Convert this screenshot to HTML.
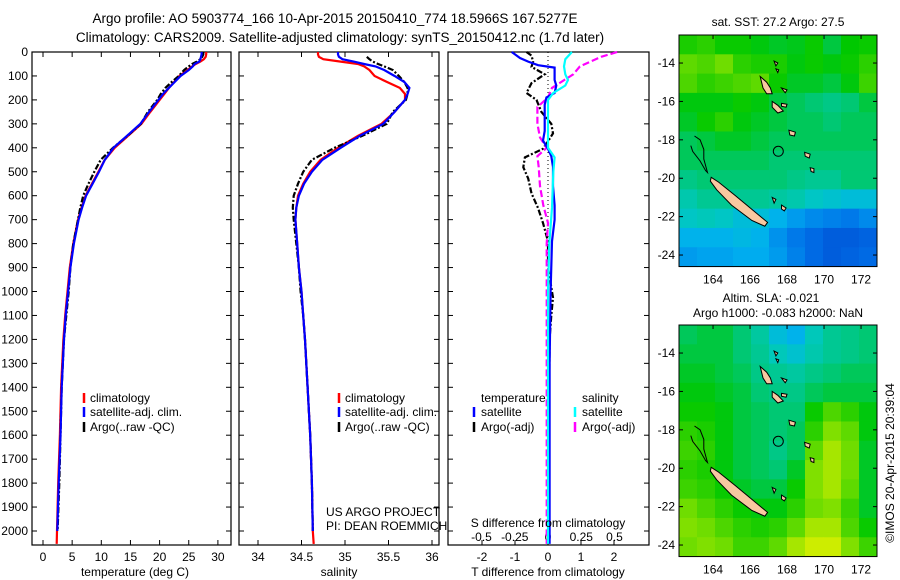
<!DOCTYPE html>
<html><head><meta charset="utf-8"><style>
body{margin:0;background:#fff;}
svg{display:block;font-family:"Liberation Sans",sans-serif;}
</style></head><body>
<svg id="fig" width="900" height="580" viewBox="0 0 900 580" xmlns="http://www.w3.org/2000/svg">
<rect width="900" height="580" fill="#fff"/>
<text x="335" y="23" font-size="13.5" text-anchor="middle">Argo profile: AO 5903774_166 10-Apr-2015 20150410_774 18.5966S 167.5277E</text>
<text x="340" y="42" font-size="13.5" text-anchor="middle">Climatology: CARS2009. Satellite-adjusted climatology: synTS_20150412.nc (1.7d later)</text>
<g id="g"></g>
</svg>
<script>
// ---------- profile data ----------
const depth = [0,10,20,30,40,50,60,75,100,125,150,175,200,250,300,350,400,450,500,550,600,650,700,800,900,1000,1100,1200,1400,1600,1800,2000,2054];
const climT = [28.0,28.0,27.9,27.6,27.0,26.2,25.6,24.8,23.4,22.5,21.6,20.8,20.0,18.4,16.9,14.6,12.3,10.6,9.5,8.4,7.3,6.6,6.0,5.2,4.6,4.2,3.8,3.5,3.1,2.9,2.6,2.4,2.35];
const satT  = [27.2,27.2,27.1,27.0,26.8,26.0,25.7,25.0,23.6,22.6,21.6,20.6,19.8,18.2,16.7,14.4,12.1,10.6,9.6,8.5,7.4,6.7,6.1,5.3,4.7,4.3,3.9,3.6,3.2,3.0,2.7,2.45,null];
const argoT = [27.5,27.5,27.3,27.0,26.4,25.6,25.0,24.2,23.3,22.1,21.0,20.2,19.6,18.0,16.8,14.5,12.0,9.9,8.8,7.8,6.9,6.4,6.0,5.2,4.7,4.4,4.0,3.6,3.2,3.0,2.8,2.5,null];
const climS = [34.69,34.69,34.70,34.75,34.95,35.15,35.22,35.28,35.34,35.48,35.63,35.69,35.69,35.57,35.42,35.15,34.92,34.72,34.60,34.52,34.46,34.44,34.43,34.45,34.47,34.50,34.52,34.54,34.57,34.60,34.62,34.63,34.64];
const satS  = [34.92,34.92,34.93,34.97,35.10,35.22,35.35,35.45,35.57,35.68,35.74,35.72,35.69,35.57,35.44,35.17,34.95,34.74,34.62,34.53,34.47,34.44,34.43,34.45,34.47,34.50,34.52,34.54,34.57,34.60,34.62,34.63,null];
const argoS = [null,null,35.25,35.28,35.32,35.38,35.45,35.55,35.62,35.68,35.72,35.72,35.70,35.55,35.48,35.20,34.88,34.62,34.52,34.46,34.41,34.40,34.41,34.44,34.47,34.49,34.52,34.54,34.57,34.60,34.62,34.63,null];
// ---------- difference data ----------
const dTsatDepth = [0,10,25,40,55,65,90,117,140,171,190,220,280,330,370,404,435,480,560,640,700,790,1000,1300,2054];
const dTsat      = [-1.1,-1.0,-0.85,-0.6,-0.3,0.2,0.2,0.2,0.25,0.2,-0.05,-0.1,-0.1,-0.1,-0.15,0.0,0.1,0.15,0.15,0.2,0.2,0.12,0.08,0.05,0.05];
const dTargoDepth = [0,15,40,62,93,130,171,200,250,300,340,373,404,440,481,528,590,652,714,790,900,1025,1100,1200,1600,2000];
const dTargo      = [-0.65,-0.5,-0.45,-0.5,-0.1,-0.5,-0.65,-0.35,-0.2,0.1,0.15,0.0,-0.15,-0.7,-0.75,-0.6,-0.5,-0.3,-0.15,0.0,0.0,0.15,0.1,0.05,0.03,0.03];
const dSsatDepth = [0,30,60,93,117,140,171,200,300,400,440,500,650,800,1000,2054];
const dSsat      = [0.18,0.13,0.12,0.13,0.15,0.13,0.04,0.0,0.0,0.0,0.05,0.04,0.03,0.01,0.0,0.0];
const dSargoDepth = [0,20,60,93,150,190,230,300,357,400,435,480,560,640,714,800,2054];
const dSargo      = [0.52,0.4,0.24,0.19,0.03,0.0,-0.08,-0.08,-0.06,-0.01,-0.08,-0.07,-0.06,-0.035,0.0,-0.01,-0.01];
// ---------- map data (rows: lat -12.5 → -24.5, cols: lon 162.2 → 172.7) ----------
const sstGrid = [
[.68,.70,.66,.66,.64,.62,.63,.66,.60,.65,.66],
[.76,.74,.78,.70,.68,.68,.64,.66,.64,.66,.70],
[.74,.70,.72,.74,.76,.66,.62,.62,.60,.64,.72],
[.64,.64,.64,.66,.64,.60,.58,.56,.54,.56,.60],
[.62,.66,.70,.64,.62,.60,.58,.58,.56,.58,.58],
[.58,.60,.62,.62,.60,.58,.58,.58,.58,.58,.58],
[.58,.58,.58,.58,.58,.56,.56,.56,.56,.56,.56],
[.54,.56,.56,.56,.56,.56,.54,.52,.52,.56,.56],
[.48,.52,.52,.52,.52,.50,.48,.44,.42,.40,.40],
[.44,.46,.44,.40,.40,.36,.30,.26,.24,.22,.26],
[.36,.36,.36,.38,.36,.28,.22,.18,.14,.14,.16],
[.30,.32,.32,.34,.34,.30,.24,.18,.14,.16,.18]];
const slaGrid = [
[.58,.60,.60,.56,.50,.40,.36,.46,.52,.54,.56],
[.60,.60,.60,.56,.52,.46,.42,.48,.52,.54,.56],
[.62,.62,.60,.58,.54,.52,.50,.54,.56,.58,.58],
[.64,.64,.62,.60,.56,.54,.54,.58,.60,.60,.60],
[.66,.66,.64,.60,.58,.56,.56,.66,.74,.70,.64],
[.70,.68,.64,.60,.58,.56,.58,.70,.80,.76,.64],
[.72,.70,.64,.60,.58,.54,.58,.76,.84,.78,.62],
[.70,.68,.64,.60,.58,.56,.62,.80,.84,.78,.62],
[.72,.70,.66,.62,.60,.60,.66,.80,.84,.76,.62],
[.78,.74,.70,.66,.64,.64,.70,.78,.80,.72,.62],
[.80,.78,.74,.70,.68,.70,.76,.84,.84,.74,.66],
[.78,.80,.78,.72,.72,.76,.84,.88,.88,.80,.72]];
const depthTicks = [0,100,200,300,400,500,600,700,800,900,1000,1100,1200,1300,1400,1500,1600,1700,1800,1900,2000];
const tempTicks = [0,5,10,15,20,25,30];
const salTicks = [34,34.5,35,35.5,36];
const salTickLabels = ["34","34.5","35","35.5","36"];
const dTTicks = [-2,-1,0,1,2];
const dSTicks = [-0.5,-0.25,0,0.25,0.5];
const dSTickLabels = ["-0.5","-0.25","0","0.25","0.5"];
const latTicks = [-14,-16,-18,-20,-22,-24];
const lonTicks = [164,166,168,170,172];
const argoLon = 167.5277, argoLat = -18.5966;

const NS='http://www.w3.org/2000/svg';
const G=document.getElementById('g');
function el(tag,attrs,parent){const e=document.createElementNS(NS,tag);for(const k in attrs)e.setAttribute(k,attrs[k]);(parent||G).appendChild(e);return e;}
const yD = d => 52 + d*0.2395;
const PB = 545;

function panel(x0,x1,name){
  const r=el('rect',{x:x0,y:52,width:x1-x0,height:PB-52,fill:'none',stroke:'#000','stroke-width':1.2});
  
  
  depthTicks.forEach(d=>{
    el('line',{x1:x0,x2:x0+5,y1:yD(d),y2:yD(d),stroke:'#000'});
    el('line',{x1:x1-5,x2:x1,y1:yD(d),y2:yD(d),stroke:'#000'});
  });
}
function line(xs,ds,fx,color,name,dash,maxD){
  let pts=[];
  for(let i=0;i<xs.length;i++){ if(xs[i]===null) continue; if(maxD!==undefined && ds[i]>maxD) continue; pts.push(fx(xs[i]).toFixed(1)+','+yD(ds[i]).toFixed(1)); }
  const p=el('polyline',{points:pts.join(' '),fill:'none',stroke:color,'stroke-width':2.2});
  if(dash) p.setAttribute('stroke-dasharray',dash);
  
  
}
function txt(x,y,s,opts,name){
  const t=el('text',Object.assign({x:x,y:y,'font-size':12},opts||{}));
  t.textContent=s;
  
  
  return t;
}
function legendMark(x,y,color,name){
  const m=el('line',{x1:x,x2:x,y1:y-10,y2:y,stroke:color,'stroke-width':2.5});
  
  
}

// depth labels
depthTicks.forEach(d=>{ const t=txt(28,yD(d)+4,String(d),{'text-anchor':'end'},'depth-tick-label'); });

// ---- Panel 1 temperature ----
const xT = v => 43 + v*5.83;
panel(32,231,'temperature-panel');
tempTicks.forEach(v=>{el('line',{x1:xT(v),x2:xT(v),y1:PB,y2:PB-5,stroke:'#000'});el('line',{x1:xT(v),x2:xT(v),y1:52,y2:57,stroke:'#000'});txt(xT(v),561,String(v),{'text-anchor':'middle'},'temperature-tick-label');});
line(climT,depth,xT,'#ff0000','temperature-climatology-line');
line(argoT,depth,xT,'#000','temperature-argo-line','6,2,2,2',2000);
line(satT,depth,xT,'#0000ff','temperature-satellite-line',null,2000);
txt(135,576,'temperature (deg C)',{'text-anchor':'middle'},'temperature-axis-title');
legendMark(84,403,'#f00','legend-climatology-mark');txt(90,402,'climatology',{},'legend-climatology');
legendMark(84,417,'#00f','legend-satellite-mark');txt(90,416,'satellite-adj. clim.',{},'legend-satellite');
legendMark(84,432,'#000','legend-argo-mark');txt(90,431,'Argo(..raw -QC)',{},'legend-argo');

// ---- Panel 2 salinity ----
const xS = v => 258 + (v-34)*87;
panel(239,439,'salinity-panel');
salTicks.forEach((v,i)=>{el('line',{x1:xS(v),x2:xS(v),y1:PB,y2:PB-5,stroke:'#000'});el('line',{x1:xS(v),x2:xS(v),y1:52,y2:57,stroke:'#000'});txt(xS(v),561,salTickLabels[i],{'text-anchor':'middle'},'salinity-tick-label');});
line(climS,depth,xS,'#ff0000','salinity-climatology-line');
line(argoS,depth,xS,'#000','salinity-argo-line','6,2,2,2');
line(satS,depth,xS,'#0000ff','salinity-satellite-line',null,2000);
txt(339,576,'salinity',{'text-anchor':'middle'},'salinity-axis-title');
legendMark(339,403,'#f00','legend-climatology-mark-2');txt(345,402,'climatology',{},'legend-climatology-2');
legendMark(339,417,'#00f','legend-satellite-mark-2');txt(345,416,'satellite-adj. clim.',{},'legend-satellite-2');
legendMark(339,432,'#000','legend-argo-mark-2');txt(345,431,'Argo(..raw -QC)',{},'legend-argo-2');
txt(326,516,'US ARGO PROJECT',{},'credit-project');
txt(326,530,'PI: DEAN ROEMMICH',{},'credit-pi');

// ---- Panel 3 differences ----
const xdT = v => 548 + v*33;
const xdS = v => 548 + v*133;
panel(448,649,'difference-panel');
dTTicks.forEach(v=>{el('line',{x1:xdT(v),x2:xdT(v),y1:PB,y2:PB-5,stroke:'#000'});txt(xdT(v),561,String(v),{'text-anchor':'middle'},'t-diff-tick-label');});
dSTicks.forEach((v,i)=>{txt(xdS(v),541,dSTickLabels[i],{'text-anchor':'middle'},'s-diff-tick-label');});
el('line',{x1:xdT(0),x2:xdT(0),y1:52,y2:PB,stroke:'#000','stroke-dasharray':'1,3'});
line(dTargo,dTargoDepth,xdT,'#000','t-diff-argo-line','6,2,2,2');
line(dSargo,dSargoDepth,xdS,'#ff00ff','s-diff-argo-line','7,3');
line(dTsat,dTsatDepth,xdT,'#0000ff','t-diff-satellite-line');
line(dSsat,dSsatDepth,xdS,'#00ffff','s-diff-satellite-line');
txt(548,527,'S difference from climatology',{'text-anchor':'middle'},'s-diff-axis-title');
txt(548,576,'T difference from climatology',{'text-anchor':'middle'},'t-diff-axis-title');
txt(481,402,'temperature',{},'legend-temperature-header');
legendMark(474,417,'#00f','legend-t-satellite-mark');txt(481,416,'satellite',{},'legend-t-satellite');
legendMark(474,432,'#000','legend-t-argo-mark');txt(481,431,'Argo(-adj)',{},'legend-t-argo');
txt(582,402,'salinity',{},'legend-salinity-header');
legendMark(575,417,'#0ff','legend-s-satellite-mark');txt(582,416,'satellite',{},'legend-s-satellite');
legendMark(575,432,'#f0f','legend-s-argo-mark');txt(582,431,'Argo(-adj)',{},'legend-s-argo');

// ---- Maps ----
const stops=[[0,[0,48,192]],[0.2,[0,112,232]],[0.35,[0,176,240]],[0.45,[0,200,192]],[0.55,[0,200,128]],[0.65,[0,200,0]],[0.8,[128,224,0]],[0.9,[224,240,0]],[1,[255,192,0]]];
function cmap(v){for(let i=1;i<stops.length;i++){if(v<=stops[i][0]){const a=stops[i-1],b=stops[i],t=(v-a[0])/(b[0]-a[0]);const c=a[1].map((x,k)=>Math.round(x+(b[1][k]-x)*t));return 'rgb('+c.join(',')+')';}}return 'rgb(255,192,0)';}
const MX0=679,MX1=877,LON0=162.16,LON1=172.86;
const xL = lon => MX0 + (lon-LON0)*18.5;
const islands=[
[[163.9,-19.95],[164.3,-20.2],[165.2,-20.9],[166.2,-21.7],[166.95,-22.3],[166.8,-22.5],[166.1,-22.2],[165.0,-21.4],[164.2,-20.6],[163.85,-20.15]],
[[166.55,-14.7],[166.9,-15.0],[167.1,-15.3],[167.2,-15.6],[166.9,-15.6],[166.7,-15.3]],
[[167.2,-16.0],[167.5,-16.2],[167.8,-16.5],[167.5,-16.6],[167.2,-16.3]],
[[168.1,-17.5],[168.45,-17.6],[168.4,-17.8],[168.15,-17.75]],
[[168.95,-18.65],[169.25,-18.75],[169.2,-18.95],[168.98,-18.85]],
[[169.25,-19.45],[169.45,-19.5],[169.45,-19.7],[169.3,-19.65]],
[[167.7,-15.3],[168.0,-15.4],[167.9,-15.55]],
[[167.7,-16.1],[168.0,-16.15],[167.95,-16.3],[167.7,-16.25]],
[[167.2,-21.0],[167.4,-21.1],[167.3,-21.3]],
[[167.7,-21.4],[167.95,-21.55],[167.85,-21.7],[167.7,-21.6]],
[[167.3,-13.9],[167.5,-14.0],[167.4,-14.15]],
[[167.4,-14.3],[167.55,-14.35],[167.5,-14.5]]];
const reef=[[163.0,-17.8],[163.3,-18.0],[163.5,-18.5],[163.5,-19.0],[163.7,-19.7],[163.6,-19.6],[163.3,-19.1],[162.9,-18.6],[162.8,-18.3]];
function drawMap(top,grid,name){
  const yL = lat => top + (-lat-12.54)*19.2;
  const g=el('g',{});
  
  
  const cw=(MX1-MX0)/grid[0].length, ch=(yL(-24.6)-top)/grid.length;
  grid.forEach((row,r)=>row.forEach((v,c)=>{
    const cell=el('rect',{x:MX0+c*cw,y:top+r*ch,width:cw+0.5,height:ch+0.5,fill:cmap(v)},g);
    
    
  }));
  islands.forEach(poly=>{const p=el('polygon',{points:poly.map(q=>xL(q[0]).toFixed(1)+','+yL(q[1]).toFixed(1)).join(' '),fill:'#f8c8a0',stroke:'#000','stroke-width':1},g);});
  const rf=el('polyline',{points:reef.map(q=>xL(q[0]).toFixed(1)+','+yL(q[1]).toFixed(1)).join(' '),fill:'none',stroke:'#000','stroke-width':1},g);
  
  
  const c=el('circle',{cx:xL(argoLon),cy:yL(argoLat),r:5,fill:'none',stroke:'#000','stroke-width':1},g);
  
  
  el('rect',{x:MX0,y:top,width:MX1-MX0,height:yL(-24.6)-top,fill:'none',stroke:'#000','stroke-width':1},g);
  latTicks.forEach(l=>{el('line',{x1:MX0,x2:MX0+4,y1:yL(l),y2:yL(l),stroke:'#000'},g);el('line',{x1:MX1-4,x2:MX1,y1:yL(l),y2:yL(l),stroke:'#000'},g);txt(675,yL(l)+4,String(l),{'text-anchor':'end'},'map-lat-label');});
  lonTicks.forEach(l=>{el('line',{x1:xL(l),x2:xL(l),y1:top,y2:top+4,stroke:'#000'},g);txt(xL(l),yL(-24.6)+17,String(l),{'text-anchor':'middle'},'map-lon-label');});
}
drawMap(35,sstGrid,'sst-map');
drawMap(325,slaGrid,'sla-map');
txt(778,26,'sat. SST: 27.2 Argo: 27.5',{'text-anchor':'middle'},'sst-map-title');
txt(771,302,'Altim. SLA: -0.021',{'text-anchor':'middle'},'sla-map-title');
txt(778,317,'Argo h1000: -0.083 h2000: NaN',{'text-anchor':'middle'},'sla-map-subtitle');
const cp=txt(0,0,'©IMOS 20-Apr-2015 20:39:04',{'text-anchor':'middle',transform:'translate(894,463) rotate(-90)'},'copyright-stamp');
</script>
</body></html>
